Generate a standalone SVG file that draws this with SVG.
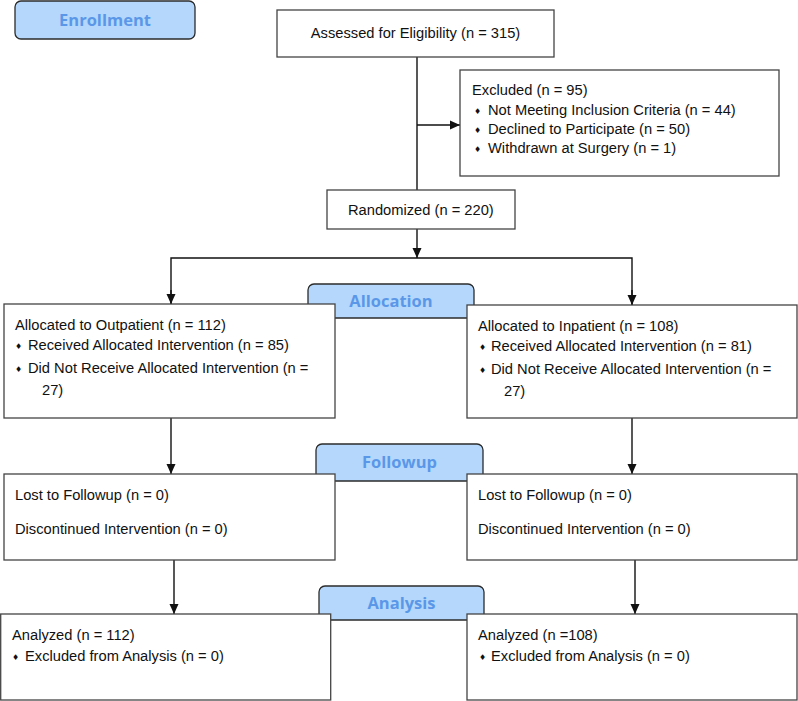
<svg xmlns="http://www.w3.org/2000/svg" width="798" height="701" viewBox="0 0 798 701">
<style>
.box{fill:#fff;stroke:#444;stroke-width:1.3}
.lab{fill:#b4d7fb;stroke:#2b2b2b;stroke-width:1.3}
.t{font-family:"Liberation Sans",Arial,sans-serif;font-size:14.7px;fill:#111}
.b{font-family:"DejaVu Sans",sans-serif;font-size:8px;fill:#111}
.h{font-family:"Open Sans","Noto Sans",sans-serif;font-weight:bold;font-size:16.5px;fill:#5b97e8;text-anchor:middle}
.c{fill:none;stroke:#111;stroke-width:1.4}
</style>
<defs>
<marker id="ah" viewBox="0 0 10 10" refX="10" refY="5" markerWidth="10" markerHeight="10" markerUnits="userSpaceOnUse" orient="auto">
<path d="M0,0.5 L10,5 L0,9.5 Z" fill="#111"/>
</marker>
</defs>
<rect width="798" height="701" fill="#fff"/>

<g id="connectors">
<line class="c" x1="417" y1="57" x2="417" y2="190"/>
<line class="c" x1="417" y1="125" x2="460" y2="125" marker-end="url(#ah)"/>
<line class="c" x1="417" y1="229" x2="417" y2="258" marker-end="url(#ah)"/>
<polyline class="c" points="171,304 171,258 632,258 632,305"/>
<line class="c" x1="171" y1="290" x2="171" y2="304" marker-end="url(#ah)"/>
<line class="c" x1="632" y1="290" x2="632" y2="305" marker-end="url(#ah)"/>
<line class="c" x1="171" y1="418" x2="171" y2="474" marker-end="url(#ah)"/>
<line class="c" x1="632" y1="418" x2="632" y2="474" marker-end="url(#ah)"/>
<line class="c" x1="174" y1="560" x2="174" y2="614" marker-end="url(#ah)"/>
<line class="c" x1="635" y1="560" x2="635" y2="614" marker-end="url(#ah)"/>
</g>

<g id="enrollment">
<rect class="lab" x="15" y="1" width="180" height="38" rx="6"/>
<text class="h" x="105" y="26">Enrollment</text>
</g>

<g id="assessed">
<rect class="box" x="277" y="10" width="277" height="47"/>
<text class="t" x="415.5" y="38" text-anchor="middle">Assessed for Eligibility (n = 315)</text>
</g>

<g id="excluded">
<rect class="box" x="460" y="70" width="319" height="106"/>
<text class="t" x="472" y="95">Excluded (n = 95)</text>
<text class="b" x="474" y="114">♦</text>
<text class="t" x="488" y="115">Not Meeting Inclusion Criteria (n = 44)</text>
<text class="b" x="474" y="133">♦</text>
<text class="t" x="488" y="134">Declined to Participate (n = 50)</text>
<text class="b" x="474" y="152">♦</text>
<text class="t" x="488" y="153">Withdrawn at Surgery (n = 1)</text>
</g>

<g id="randomized">
<rect class="box" x="327" y="190" width="188" height="39"/>
<text class="t" x="348" y="215">Randomized (n = 220)</text>
</g>

<g id="allocation">
<rect class="lab" x="308" y="284" width="166" height="34" rx="6"/>
<text class="h" x="391" y="307">Allocation</text>
</g>

<g id="alloc-out">
<rect class="box" x="4" y="304" width="331" height="114"/>
<text class="t" x="15" y="330">Allocated to Outpatient (n = 112)</text>
<text class="b" x="15" y="349">♦</text>
<text class="t" x="28" y="350">Received Allocated Intervention (n = 85)</text>
<text class="b" x="15" y="372">♦</text>
<text class="t" x="28" y="373">Did Not Receive Allocated Intervention (n =</text>
<text class="t" x="42" y="395">27)</text>
</g>

<g id="alloc-in">
<rect class="box" x="467" y="305" width="330" height="113"/>
<text class="t" x="478" y="331">Allocated to Inpatient (n = 108)</text>
<text class="b" x="479" y="350">♦</text>
<text class="t" x="491" y="351">Received Allocated Intervention (n = 81)</text>
<text class="b" x="479" y="373">♦</text>
<text class="t" x="491" y="374">Did Not Receive Allocated Intervention (n =</text>
<text class="t" x="504" y="396">27)</text>
</g>

<g id="followup">
<rect class="lab" x="316" y="444" width="167" height="37" rx="6"/>
<text class="h" x="399.5" y="468">Followup</text>
</g>

<g id="follow-out">
<rect class="box" x="4" y="474" width="331" height="86"/>
<text class="t" x="15" y="500">Lost to Followup (n = 0)</text>
<text class="t" x="15" y="534">Discontinued Intervention (n = 0)</text>
</g>

<g id="follow-in">
<rect class="box" x="467" y="474" width="330" height="86"/>
<text class="t" x="478" y="500">Lost to Followup (n = 0)</text>
<text class="t" x="478" y="534">Discontinued Intervention (n = 0)</text>
</g>

<g id="analysis">
<rect class="lab" x="319" y="586" width="165" height="34" rx="6"/>
<text class="h" x="401.5" y="609">Analysis</text>
</g>

<g id="analysis-out">
<rect class="box" x="0.7" y="614" width="330" height="86"/>
<text class="t" x="12" y="640">Analyzed (n = 112)</text>
<text class="b" x="12" y="660">♦</text>
<text class="t" x="25" y="661">Excluded from Analysis (n = 0)</text>
</g>

<g id="analysis-in">
<rect class="box" x="467" y="614" width="330" height="86"/>
<text class="t" x="478" y="640">Analyzed (n =108)</text>
<text class="b" x="479" y="660">♦</text>
<text class="t" x="491" y="661">Excluded from Analysis (n = 0)</text>
</g>
</svg>
